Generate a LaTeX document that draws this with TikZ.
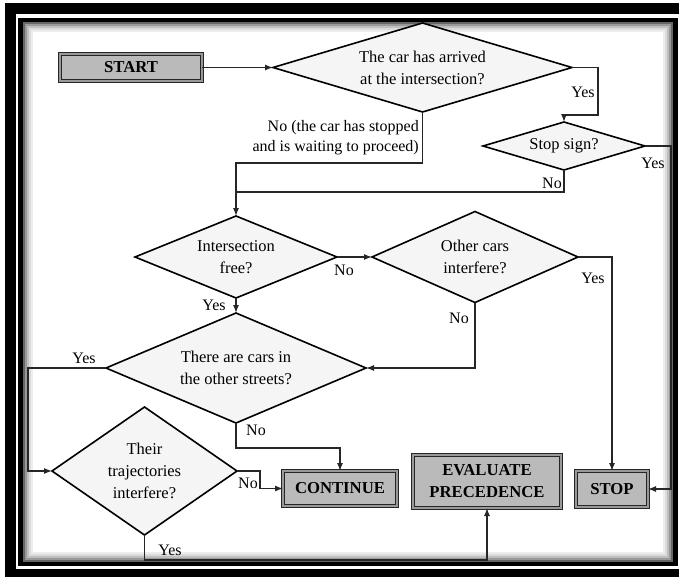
\documentclass[tikz,border=0pt]{standalone}
\usepackage{fontspec}
\setmainfont{Liberation Serif}
\usetikzlibrary{shapes.geometric,arrows.meta,calc}
\begin{document}
\begin{tikzpicture}[x=1pt,y=-1pt,
 dia/.style={diamond, draw=black, line width=1.6pt, fill=black!4, inner sep=0pt, outer sep=0pt, align=center, font=\fontsize{16.5}{22}\selectfont},
 boxnode/.style={rectangle, draw=black!85, line width=1.1pt, double=black!40, double distance=2pt, fill=black!27, inner sep=0pt, outer sep=0pt, align=center, font=\fontsize{16.7}{22}\selectfont\bfseries},
 lbl/.style={inner sep=1pt, font=\fontsize{16}{20}\selectfont},
 arr/.style={draw=black!85, line width=1.2pt, -{Latex[length=8pt,width=6pt]}},
 ln/.style={draw=black!85, line width=1.2pt},
]
\useasboundingbox (0,0) rectangle (679,576);
\clip (0,0) rectangle (679,576);
\fill[white] (0,0) rectangle (679,576);
% frame
\fill[black] (5,3) rectangle (700,600);
\fill[white] (16,14) rectangle (690,569);
\draw[black, line width=4.5pt] (20.5,20) rectangle (675.5,564);
\foreach \d/\c in {1/60,3/40,5/25,7/14,9/7}
  \draw[black!\c, line width=2pt] ({23+\d},{22+\d}) rectangle ({673-\d},{562-\d});

% nodes
\node[boxnode, minimum width=142pt, minimum height=27pt] (start) at (131,67.5) {START};
\node[dia, minimum width=299pt, minimum height=89pt, shape aspect=3.36] (d1) at (422.5,67.5) {The car has arrived\\at the intersection?};
\node[dia, minimum width=162pt, minimum height=48pt, shape aspect=3.375] (stopsign) at (564,146) {Stop sign?};
\node[dia, minimum width=202pt, minimum height=82pt, shape aspect=2.46] (dfree) at (236,257) {Intersection\\free?};
\node[dia, minimum width=206pt, minimum height=91pt, shape aspect=2.26] (dother) at (475,257) {Other cars\\interfere?};
\node[dia, minimum width=260pt, minimum height=110pt, shape aspect=2.36] (dcars) at (236,368) {There are cars in\\the other streets?};
\node[dia, minimum width=185pt, minimum height=128pt, shape aspect=1.445] (dtraj) at (144.5,471) {Their\\trajectories\\interfere?};
\node[boxnode, minimum width=114pt, minimum height=35pt] (continue) at (340,488.5) {CONTINUE};
\node[boxnode, minimum width=148pt, minimum height=53pt] (evaluate) at (487,481.5) {EVALUATE\\PRECEDENCE};
\node[boxnode, minimum width=72pt, minimum height=36pt] (stop) at (612,489) {STOP};

% connectors
\coordinate (c1) at (598,115);
\coordinate (c2) at (671,300);
\coordinate (c3) at (236,192);
\coordinate (c4) at (236,163);
\coordinate (c5) at (28,420);
\coordinate (c6) at (236,448);
\coordinate (c7) at (260,478);
\coordinate (c8) at (300,560);

\draw[arr] (start.east) -- (d1.west);
\draw[arr] (d1.east) -| (c1) -| (stopsign.north);
\draw[arr] (stopsign.east) -| (c2) |- (stop.east);
\draw[arr] (stopsign.south) |- (c3) -- (dfree.north);
\draw[ln] (d1.south) |- (c4) -- (c3);
\draw[arr] (dfree.east) -- (dother.west);
\draw[arr] (dother.east) -| (stop.north);
\draw[arr] (dother.south) |- (dcars.east);
\draw[arr] (dfree.south) -- (dcars.north);
\draw[arr] (dcars.west) -| (c5) |- (dtraj.west);
\draw[arr] (dcars.south) -- (c6) -| (continue.north);
\draw[arr] (dtraj.east) -| (c7) |- (continue.west);
\draw[arr] (dtraj.south) |- (c8) -| (evaluate.south);

% labels
\node[lbl] (lyes1) at (583,92) {Yes};
\node[lbl] (lyes2) at (653,163) {Yes};
\node[lbl] (lno2) at (552,183) {No};
\node[lbl, align=right, anchor=east] (lno1) at (420,138) {No (the car has stopped\\and is waiting to proceed)};
\node[lbl] (lno3) at (344,270) {No};
\node[lbl] (lyes3) at (593,278) {Yes};
\node[lbl] (lno4) at (459,318) {No};
\node[lbl] (lyes4) at (214,305) {Yes};
\node[lbl] (lyes5) at (84,358) {Yes};
\node[lbl] (lno5) at (256,430) {No};
\node[lbl] (lno6) at (248,483) {No};
\node[lbl] (lyes6) at (170,550) {Yes};
\end{tikzpicture}
\end{document}
